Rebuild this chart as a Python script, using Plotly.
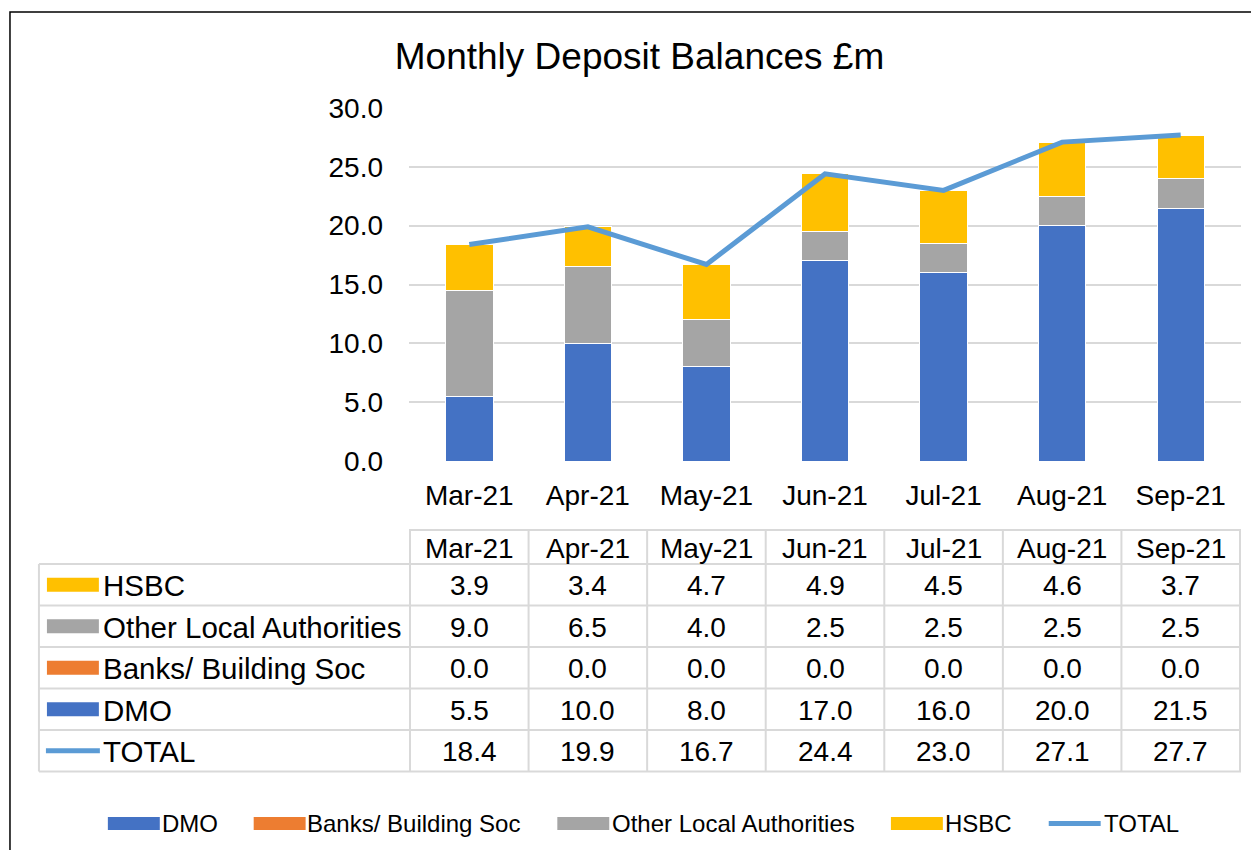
import plotly.graph_objects as go

# ---------------- data ----------------
months = ["Mar-21", "Apr-21", "May-21", "Jun-21", "Jul-21", "Aug-21", "Sep-21"]
dmo = [5.5, 10.0, 8.0, 17.0, 16.0, 20.0, 21.5]
banks = [0.0, 0.0, 0.0, 0.0, 0.0, 0.0, 0.0]
other_la = [9.0, 6.5, 4.0, 2.5, 2.5, 2.5, 2.5]
hsbc = [3.9, 3.4, 4.7, 4.9, 4.5, 4.6, 3.7]
total = [18.4, 19.9, 16.7, 24.4, 23.0, 27.1, 27.7]
y_ticks = [0, 5, 10, 15, 20, 25, 30]

# ---------------- styling ----------------
C_DMO = "#4472C4"
C_BANKS = "#ED7D31"
C_OTHER = "#A5A5A5"
C_HSBC = "#FFC000"
C_TOTAL = "#5B9BD5"
GRID = "#D9D9D9"
FONT = "Liberation Sans, Arial, sans-serif"

W, H = 1259, 850
OFF = 8  # page body margin offset
PL, PR, PT, PB = 408.5, 1241.5, 108, 461  # plot area in screen pixels


def px(xp):
    return (xp - PL) / (PR - PL)


def py(yp):
    return (PB - yp) / (PB - PT)


fig = go.Figure()
bar_kw = dict(marker_line_color="white", marker_line_width=1)
fig.add_trace(go.Bar(x=months, y=dmo, name="DMO", marker_color=C_DMO, **bar_kw))
fig.add_trace(go.Bar(x=months, y=banks, name="Banks/ Building Soc", marker_color=C_BANKS, **bar_kw))
fig.add_trace(go.Bar(x=months, y=other_la, name="Other Local Authorities", marker_color=C_OTHER, **bar_kw))
fig.add_trace(go.Bar(x=months, y=hsbc, name="HSBC", marker_color=C_HSBC, **bar_kw))
fig.add_trace(go.Scatter(x=months, y=total, name="TOTAL", mode="lines",
                         line=dict(color=C_TOTAL, width=5)))

shapes = []
annotations = []

# ---------------- data table ----------------
row_edges = [530, 564, 605.5, 647, 688.5, 730, 771.5]
TL = 38  # table left edge (px)
lc = dict(color=GRID, width=2)

shapes.append(dict(type="line", xref="paper", yref="paper", x0=px(PL), x1=px(PR),
                   y0=py(row_edges[0]), y1=py(row_edges[0]), line=lc))
for ye in row_edges[1:]:
    shapes.append(dict(type="line", xref="paper", yref="paper", x0=px(TL), x1=px(PR),
                       y0=py(ye), y1=py(ye), line=lc))
shapes.append(dict(type="line", xref="paper", yref="paper", x0=px(TL), x1=px(TL),
                   y0=py(row_edges[1]), y1=py(row_edges[-1]), line=lc))
for i in range(len(months) + 1):
    shapes.append(dict(type="line", xref="x", yref="paper", x0=i - 0.5, x1=i - 0.5,
                       y0=py(row_edges[0]), y1=py(row_edges[-1]), line=lc))

TFS = 28
hc = (row_edges[0] + row_edges[1]) / 2
for i, m in enumerate(months):
    annotations.append(dict(text=m, x=i, xref="x", y=py(hc + 1), yref="paper",
                            showarrow=False, font=dict(size=TFS, color="black"),
                            xanchor="center", yanchor="middle"))

rows = [
    ("HSBC", hsbc, C_HSBC, "bar"),
    ("Other Local Authorities", other_la, C_OTHER, "bar"),
    ("Banks/ Building Soc", banks, C_BANKS, "bar"),
    ("DMO", dmo, C_DMO, "bar"),
    ("TOTAL", total, C_TOTAL, "line"),
]
for r, (name, vals, col, kind) in enumerate(rows):
    yc = (row_edges[r + 1] + row_edges[r + 2]) / 2
    if kind == "bar":
        shapes.append(dict(type="rect", xref="paper", yref="paper", x0=px(46), x1=px(98),
                           y0=py(yc - 7), y1=py(yc + 7), fillcolor=col, line=dict(width=0)))
    else:
        shapes.append(dict(type="line", xref="paper", yref="paper", x0=px(45), x1=px(99),
                           y0=py(yc), y1=py(yc), line=dict(color=col, width=5)))
    annotations.append(dict(text=name, x=px(100.5), xref="paper", y=py(yc + 1), yref="paper",
                            showarrow=False, font=dict(size=29.5, color="black"),
                            xanchor="left", yanchor="middle"))
    for i, v in enumerate(vals):
        annotations.append(dict(text=f"{v:.1f}", x=i, xref="x", y=py(yc + 1), yref="paper",
                                showarrow=False, font=dict(size=TFS, color="black"),
                                xanchor="center", yanchor="middle"))

# ---------------- bottom legend ----------------
legend_items = [
    ("DMO", C_DMO, "bar", 107, 159),
    ("Banks/ Building Soc", C_BANKS, "bar", 253, 304),
    ("Other Local Authorities", C_OTHER, "bar", 557, 610),
    ("HSBC", C_HSBC, "bar", 891, 943),
    ("TOTAL", C_TOTAL, "line", 1047, 1102),
]
LY = 823.5
for name, col, kind, sx, tx in legend_items:
    if kind == "bar":
        shapes.append(dict(type="rect", xref="paper", yref="paper", x0=px(sx), x1=px(sx + 52),
                           y0=py(LY - 6.5), y1=py(LY + 6.5), fillcolor=col, line=dict(width=0)))
    else:
        shapes.append(dict(type="line", xref="paper", yref="paper", x0=px(sx + 2), x1=px(sx + 54),
                           y0=py(LY), y1=py(LY), line=dict(color=col, width=5)))
    annotations.append(dict(text=name, x=px(tx), xref="paper", y=py(LY), yref="paper",
                            showarrow=False, font=dict(size=24, color="black"),
                            xanchor="left", yanchor="middle"))

# outer chart border
shapes.append(dict(type="rect", xref="paper", yref="paper", x0=px(9), x1=px(1300),
                   y0=py(12), y1=py(900), line=dict(color="black", width=1.5)))

fig.update_layout(
    width=W, height=H,
    barmode="stack", bargap=0.6,
    showlegend=False,
    paper_bgcolor="white", plot_bgcolor="white",
    font=dict(family=FONT, color="black"),
    margin=dict(l=PL - OFF, r=W - (PR - OFF), t=PT - OFF, b=H - (PB - OFF), autoexpand=False),
    title=dict(text="Monthly Deposit Balances £m", font=dict(size=37, color="black"),
               x=(639.5 - OFF) / W, xref="container", xanchor="center",
               y=1 - (56 - OFF) / H, yref="container", yanchor="middle"),
    xaxis=dict(showgrid=False, showline=False, zeroline=False, ticks="",
               tickfont=dict(size=28, color="black"), ticklabelstandoff=15),
    yaxis=dict(range=[0, 30], tickvals=y_ticks, tickformat=".1f",
               showgrid=True, gridcolor=GRID, gridwidth=2, zeroline=False,
               showline=False, ticks="", tickfont=dict(size=28, color="black"),
               ticklabelstandoff=25),
    shapes=shapes,
    annotations=annotations,
)

fig.write_html("out.html")
